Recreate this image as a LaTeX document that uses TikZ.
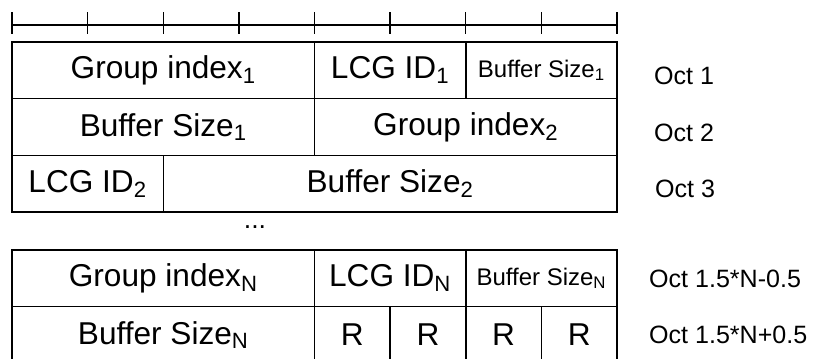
\documentclass[tikz,border=0pt]{standalone}
\usepackage{fontspec}
\setmainfont{Liberation Sans}
\usetikzlibrary{positioning}
\newcommand{\bitw}{56.72pt}
\newcommand{\rowh}{42.52pt}
\begin{document}
\begin{tikzpicture}[x=0.75pt, y=-0.75pt, line width=1.1pt, node distance=0pt,
    field/.style={draw, rectangle, inner sep=0pt, outer sep=0pt, minimum height=\rowh, font=\fontsize{23.7}{28}\selectfont},
    smallfield/.style={font=\fontsize{18}{22}\selectfont},
    oct/.style={anchor=west, font=\fontsize{18.8}{22}\selectfont}]
    \useasboundingbox (0,0) rectangle (813,358);

    % bit ruler
    \draw (12,25) -- (617,25);
    \foreach \i in {0,...,8}
        \draw (12+\i*75.625,12) -- (12+\i*75.625,34);

    % Oct 1
    \node[field, minimum width=4*\bitw, anchor=north west] (gi1) at (12,42) {Group index\textsubscript{1}};
    \node[field, minimum width=2*\bitw, right=of gi1] (lcg1) {LCG ID\textsubscript{1}};
    \node[field, smallfield, minimum width=2*\bitw, right=of lcg1] (bs1) {Buffer Size\textsubscript{1}};
    % Oct 2
    \node[field, minimum width=4*\bitw, anchor=north west] (bs1b) at (12,98.7) {Buffer Size\textsubscript{1}};
    \node[field, minimum width=4*\bitw, right=of bs1b] (gi2) {Group index\textsubscript{2}};
    % Oct 3
    \node[field, minimum width=2*\bitw, anchor=north west] (lcg2) at (12,155.4) {LCG ID\textsubscript{2}};
    \node[field, minimum width=6*\bitw, right=of lcg2] (bs2) {Buffer Size\textsubscript{2}};

    \node[font=\fontsize{20}{24}\selectfont] (dots) at (255,227.5) {...};

    % Oct 1.5*N-0.5
    \node[field, minimum width=4*\bitw, anchor=north west] (giN) at (12,250) {Group index\textsubscript{N}};
    \node[field, minimum width=2*\bitw, right=of giN] (lcgN) {LCG ID\textsubscript{N}};
    \node[field, smallfield, minimum width=2*\bitw, right=of lcgN] (bsN) {Buffer Size\textsubscript{N}};
    % Oct 1.5*N+0.5
    \node[field, minimum width=4*\bitw, anchor=north west] (bsNb) at (12,306.7) {Buffer Size\textsubscript{N}};
    \node[field, minimum width=\bitw, right=of bsNb] (r1) {R};
    \node[field, minimum width=\bitw, right=of r1] (r2) {R};
    \node[field, minimum width=\bitw, right=of r2] (r3) {R};
    \node[field, minimum width=\bitw, right=of r3] (r4) {R};

    \node[oct] (oct1) at (649,75.5) {Oct 1};
    \node[oct] (oct2) at (649,132.5) {Oct 2};
    \node[oct] (oct3) at (650,188.5) {Oct 3};
    \node[oct] (octa) at (644,278.5) {Oct 1.5*N-0.5};
    \node[oct] (octb) at (644,335) {Oct 1.5*N+0.5};
\end{tikzpicture}
\end{document}
